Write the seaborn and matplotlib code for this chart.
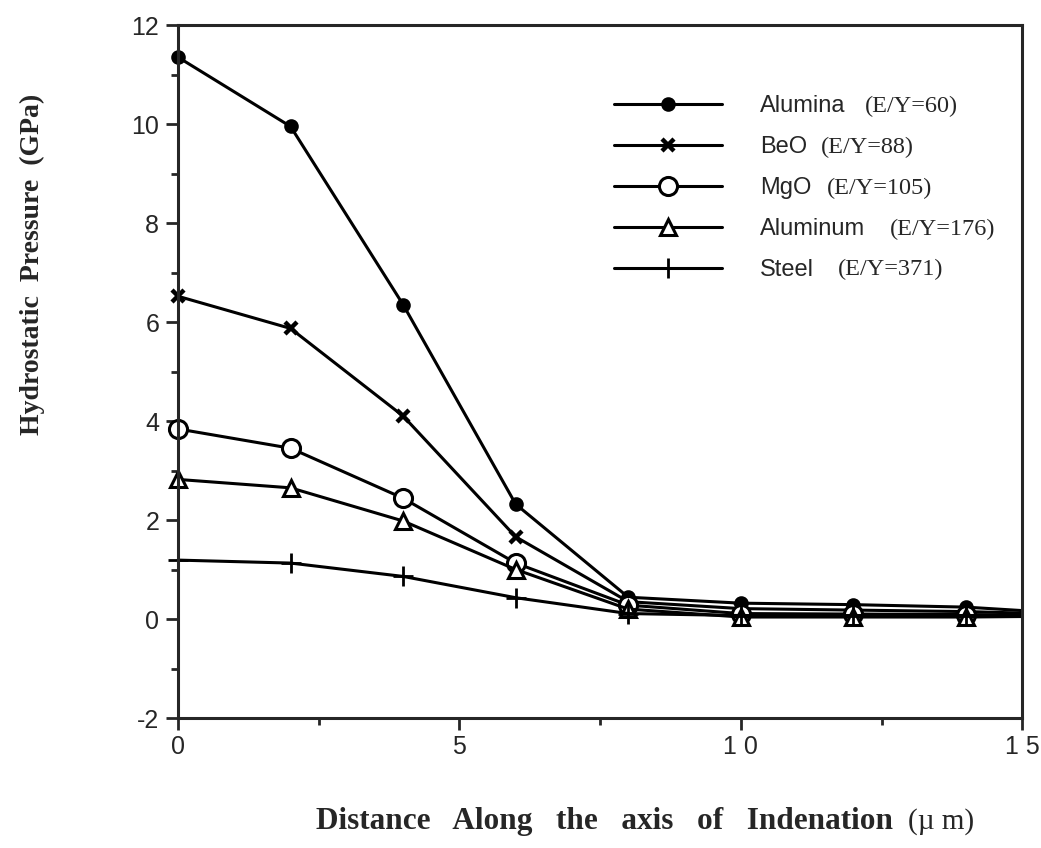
import matplotlib
matplotlib.use("Agg")
import matplotlib.pyplot as plt
import matplotlib.ticker as ticker
import seaborn as sns
import pandas as pd

# distancia a lo largo del eje (um); el punto 15 solo prolonga la linea hasta el borde
distance = [0, 2, 4, 6, 8, 10, 12, 14, 15]

alumina = [11.35, 9.95, 6.35, 2.32, 0.44, 0.32, 0.29, 0.24, 0.17]
beo = [6.52, 5.87, 4.10, 1.66, 0.35, 0.21, 0.18, 0.15, 0.12]
mgo = [3.84, 3.45, 2.44, 1.13, 0.28, 0.11, 0.10, 0.09, 0.08]
aluminum = [2.82, 2.65, 1.98, 1.00, 0.20, 0.04, 0.04, 0.04, 0.05]
steel = [1.19, 1.13, 0.86, 0.43, 0.11, 0.07, 0.07, 0.07, 0.07]

materials = ["Alumina", "BeO", "MgO", "Aluminum", "Steel"]
ratios = ["(E/Y=60)", "(E/Y=88)", "(E/Y=105)", "(E/Y=176)", "(E/Y=371)"]
series = [alumina, beo, mgo, aluminum, steel]

sns.set_style("ticks")
plt.rcParams["font.family"] = ["Liberation Sans", "DejaVu Sans"]
plt.rcParams["axes.unicode_minus"] = False

fig = plt.figure(figsize=(10.41, 8.48), dpi=100)
ax = fig.add_axes([0.171, 0.1533, 0.811, 0.8172])

estilos = {
    "Alumina":  dict(marker="o", ms=9, mfc="black", mec="black", mew=1.5),
    "BeO":      dict(marker="x", ms=8, mfc="black", mec="black", mew=3.2),
    "MgO":      dict(marker="o", ms=13, mfc="white", mec="black", mew=2.2),
    "Aluminum": dict(marker="^", ms=12, mfc="white", mec="black", mew=2.2),
    "Steel":    dict(marker="+", ms=15, mfc="black", mec="black", mew=2.0),
}

for nombre, valores in zip(materials, series):
    df = pd.DataFrame({"Distance": distance, "Pressure": valores})
    sns.lineplot(
        data=df, x="Distance", y="Pressure", ax=ax,
        color="black", linewidth=2.2, label=nombre, clip_on=False,
        markevery=list(range(len(distance) - 1)),
        **estilos[nombre]
    )

ax.set_xlim(0, 15)
ax.set_ylim(-2, 12)
ax.xaxis.set_major_locator(ticker.MultipleLocator(5))
ax.xaxis.set_minor_locator(ticker.MultipleLocator(2.5))
ax.yaxis.set_major_locator(ticker.MultipleLocator(2))
ax.yaxis.set_minor_locator(ticker.MultipleLocator(1))
# las etiquetas del eje x van con los digitos separados como en el original
ax.xaxis.set_major_formatter(ticker.FuncFormatter(lambda v, p: " ".join(str(int(v)))))
ax.tick_params(which="major", direction="out", length=8.5, width=2, labelsize=18)
ax.tick_params(axis="y", which="major", pad=5)
ax.tick_params(axis="x", which="major", pad=4)
ax.tick_params(which="minor", direction="out", length=5, width=2)

for s in ax.spines.values():
    s.set_linewidth(2.2)

ax.set_xlabel("Distance   Along   the   axis   of   Indenation", fontsize=22.5,
              fontweight="bold", family="Liberation Serif", va="top")
ax.xaxis.set_label_coords(0.505, -0.128)
ax.set_ylabel("Hydrostatic  Pressure  (GPa)", fontsize=20,
              fontweight="bold", family="Liberation Serif")
ax.yaxis.set_label_coords(-0.158, 0.654)
ax.annotate("(\u00b5 m)", xy=(1, 0.5), xycoords=ax.xaxis.label, xytext=(11, 0),
            textcoords="offset points", va="center", ha="left",
            fontsize=21, family="Liberation Serif")

leg = ax.legend(loc="upper left", bbox_to_anchor=(0.5166, 0.8985), frameon=False,
                fontsize=17, handlelength=4.58, handletextpad=1.6,
                labelspacing=0.8, borderpad=0, borderaxespad=0)

# la parte (E/Y=..) va en serif, a la derecha de cada nombre
fig.canvas.draw()
huecos = [13.7, 10, 10.8, 18, 17]
for txt, r, g in zip(leg.get_texts(), ratios, huecos):
    bb = txt.get_window_extent()
    xf, yf = fig.transFigure.inverted().transform((bb.x1 + g * 100 / 72, (bb.y0 + bb.y1) / 2))
    fig.text(xf, yf, r, va="center", ha="left", fontsize=17.5, family="Liberation Serif")

fig.savefig("out.png", dpi=100)
